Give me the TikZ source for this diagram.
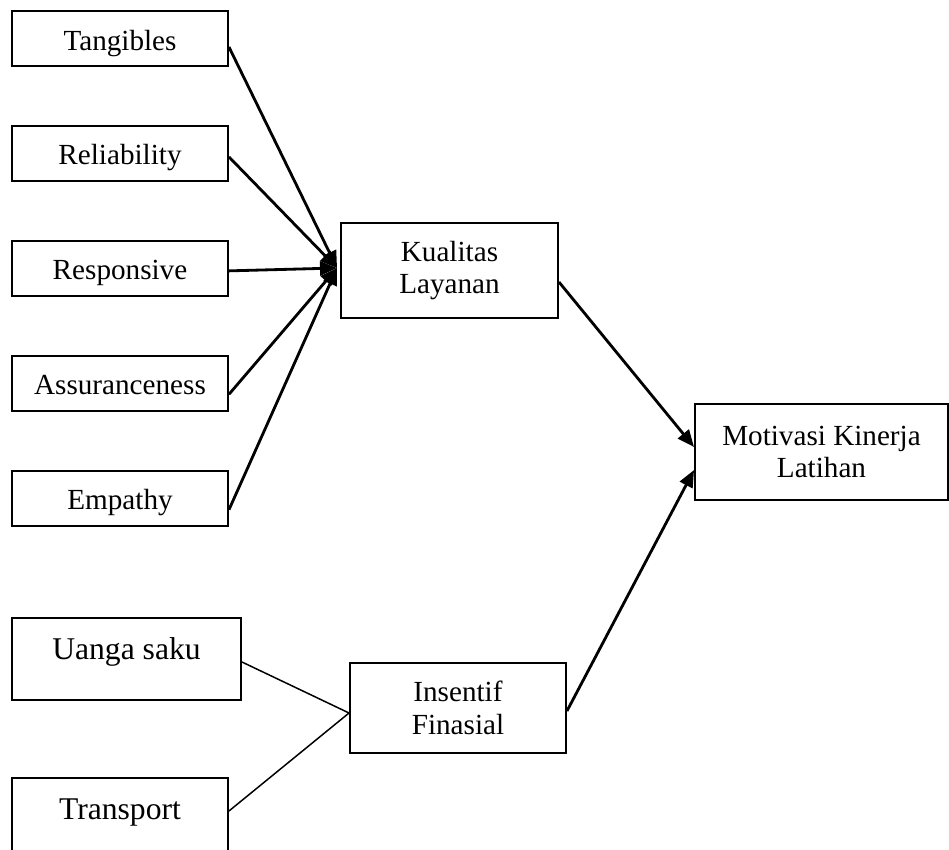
\documentclass[tikz,border=0pt]{standalone}
\usepackage{fontspec}
\setmainfont{Liberation Serif}
\usetikzlibrary{arrows.meta,positioning}

\begin{document}
\begin{tikzpicture}[
  box/.style={draw, line width=1.1pt, align=center, inner sep=0pt, font=\fontsize{16.6pt}{18.7pt}\selectfont},
  dim/.style={box, minimum width=4.32cm, minimum height=1.1cm, text height=0.58cm, text depth=0.12cm},
  src/.style={box, minimum height=1.64cm, text height=0.3cm, text depth=0.3cm, font=\fontsize{18pt}{21pt}\selectfont},
  arrow/.style={-{Triangle[length=3.4mm,width=2.8mm]}, line width=1.6pt},
  link/.style={line width=0.85pt}
]
\useasboundingbox (0,0) rectangle (18.98,-17);

% dimensi kualitas layanan
\node[dim] (tang) at (2.4,-0.77) {Tangibles};
\node[dim, below=1.16cm of tang] (rel) {Reliability};
\node[dim, below=1.16cm of rel] (resp) {Responsive};
\node[dim, below=1.16cm of resp] (assur) {Assuranceness};
\node[dim, below=1.16cm of assur] (emp) {Empathy};

\node[box, minimum width=4.34cm, minimum height=1.9cm] (kual) at (8.99,-5.41) {Kualitas\\Layanan};
\node[box, minimum width=5.06cm, minimum height=1.92cm] (motiv) at (16.43,-9.04) {Motivasi Kinerja\\Latihan};

% insentif
\node[src, minimum width=4.58cm] (uang) at (2.53,-13.18) {Uanga saku};
\node[src, minimum width=4.32cm] (trans) at (2.4,-16.38) {Transport};
\node[box, minimum width=4.32cm, minimum height=1.8cm] (ins) at (9.16,-14.16) {Insentif\\Finasial};

\draw[arrow] ([yshift=-0.17cm]tang.east) -- ([xshift=-0.06cm,yshift=0.05cm]kual.west);
\draw[arrow] ([yshift=-0.07cm]rel.east) -- ([xshift=-0.06cm,yshift=0.05cm]kual.west);
\draw[arrow] ([yshift=-0.05cm]resp.east) -- ([xshift=-0.06cm,yshift=0.05cm]kual.west);
\draw[arrow] ([yshift=-0.22cm]assur.east) -- ([xshift=-0.06cm,yshift=0.05cm]kual.west);
\draw[arrow] ([yshift=-0.23cm]emp.east) -- ([xshift=-0.06cm,yshift=0.05cm]kual.west);

\draw[arrow] ([yshift=-0.23cm]kual.east) -- ([yshift=0.1cm]motiv.west);
\draw[arrow] ([yshift=-0.06cm]ins.east) -- ([yshift=-0.36cm]motiv.west);

\draw[link] ([yshift=-0.06cm]uang.east) -- ([yshift=-0.1cm]ins.west);
\draw[link] ([yshift=0.16cm]trans.east) -- ([yshift=-0.1cm]ins.west);
\end{tikzpicture}
\end{document}
